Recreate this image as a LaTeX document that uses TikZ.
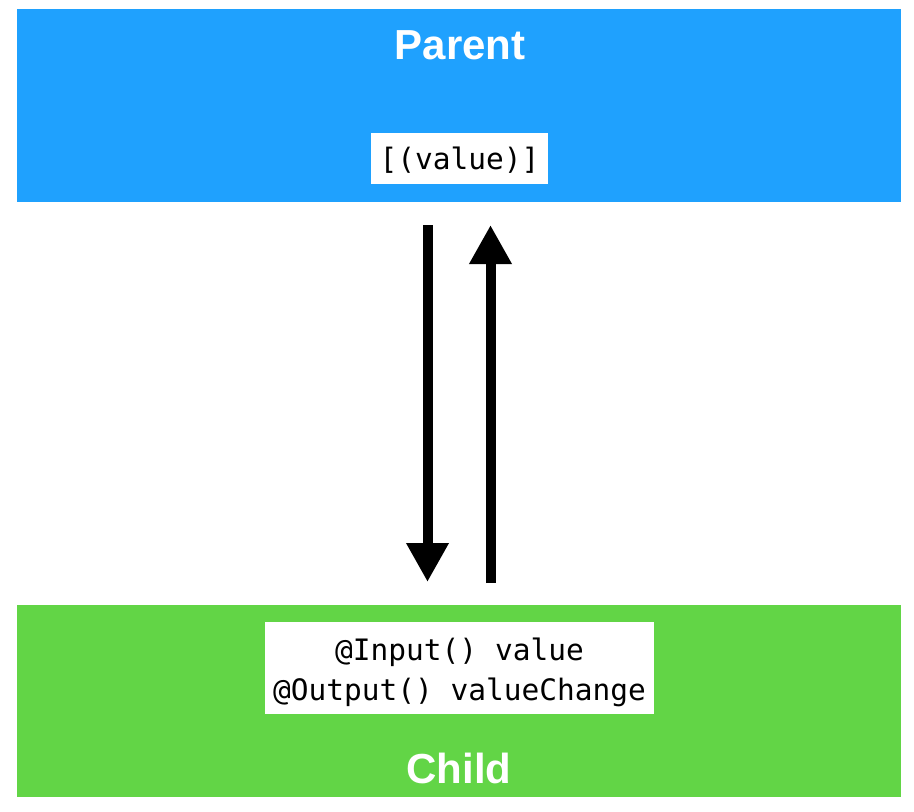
\documentclass[tikz,border=0pt]{standalone}
\usepackage{fontspec}
\setmainfont{Liberation Sans}
\newfontfamily\monofont{DejaVu Sans Mono}
\usetikzlibrary{arrows.meta}
\definecolor{parentblue}{HTML}{1FA1FE}
\definecolor{childgreen}{HTML}{62D546}
\tikzset{
  band/.style={inner sep=0pt, outer sep=0pt, minimum width=884pt},
  title/.style={text=white, font=\fontsize{42}{50}\selectfont\bfseries, inner sep=0pt},
  codebox/.style={fill=white, inner sep=0pt},
  codetext/.style={inner sep=0pt, align=center, font=\fontsize{29.5}{40}\selectfont\monofont},
  flow/.style={line width=10pt, -{Triangle[width=40pt,length=39pt]}}
}
\begin{document}
\begin{tikzpicture}[x=1pt,y=-1pt]
\useasboundingbox (0,0) rectangle (914,812);
\fill[white] (0,0) rectangle (914,812);
% bands
\node[band, fill=parentblue, minimum height=193pt, anchor=north west] (parent) at (17,9) {};
\node[band, fill=childgreen, minimum height=192pt, anchor=north west] (child) at (17,605) {};
% titles
\node[title] (ptitle) at (460,45) {Parent};
\node[title] (ctitle) at (459,768) {Child};
% code boxes
\node[codebox, minimum width=177pt, minimum height=51pt] (pcode) at (459.5,158.5) {};
\node[codetext] (pcodetext) at (459.5,160) {[(value)]};
\node[codebox, minimum width=389pt, minimum height=92pt] (ccode) at (459.5,668) {};
\node[codetext] (ccodetext) at (459.5,672) {@Input() value\\@Output() valueChange};
% arrows
\coordinate (downstart) at (427.5,225);
\coordinate (downend) at (427.5,582);
\coordinate (upstart) at (490.5,583);
\coordinate (upend) at (490.5,225);
\draw[flow] (downstart) -- (downend);
\draw[flow] (upstart) -- (upend);
\end{tikzpicture}
\end{document}
